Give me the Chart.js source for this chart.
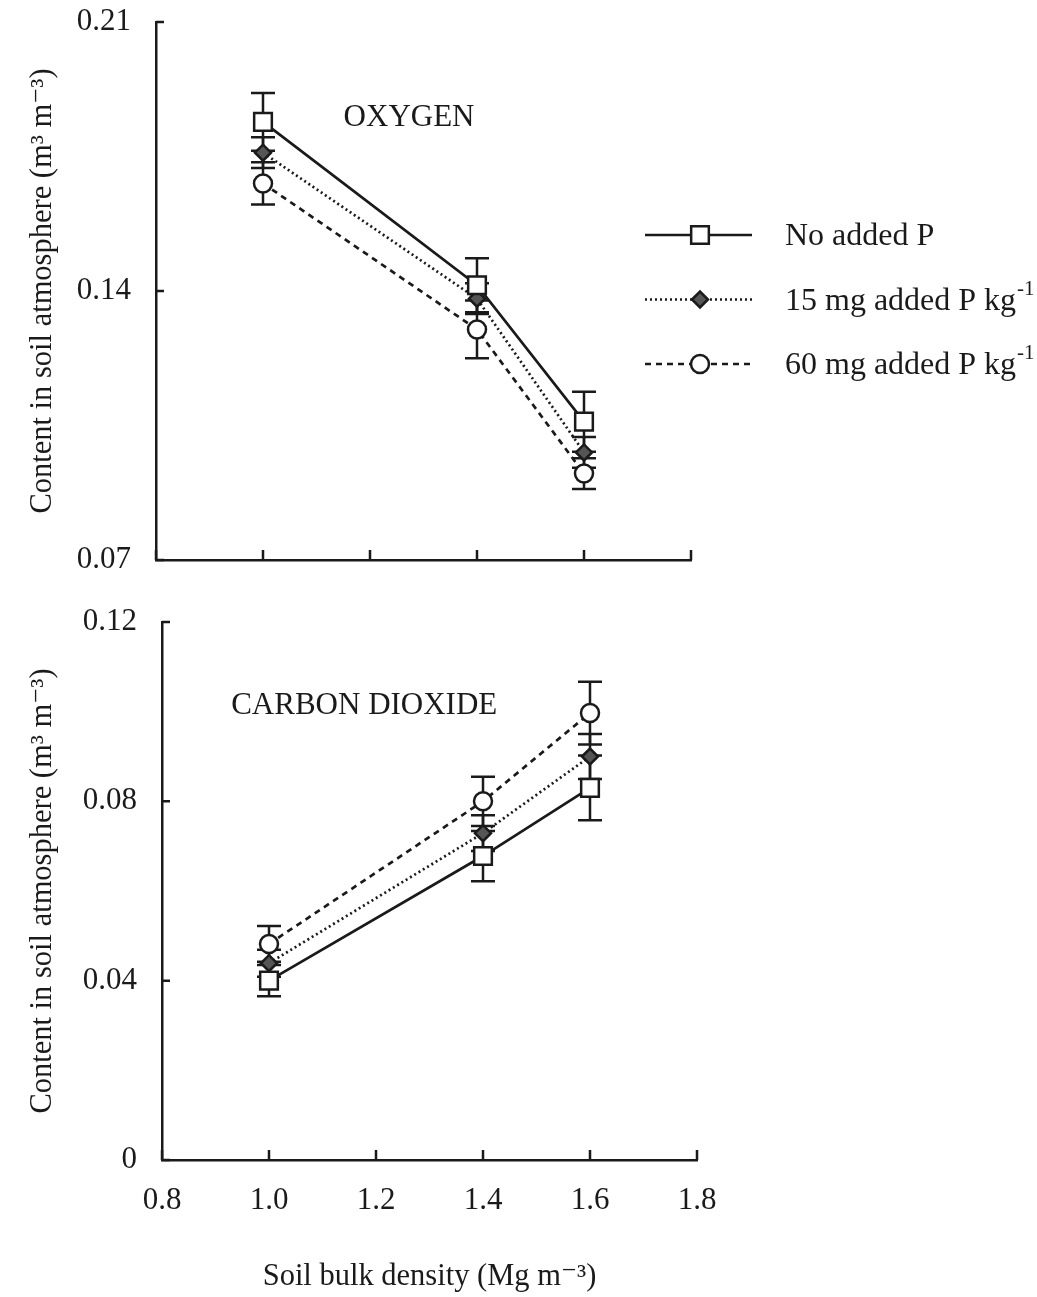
<!DOCTYPE html>
<html>
<head>
<meta charset="utf-8">
<script src="https://cdn.jsdelivr.net/npm/chart.js@4.4.1/dist/chart.umd.min.js"></script>
<style>
  body { margin: 0; background: #fff; }
  #wrap { position: relative; width: 1037px; height: 1297px; }
  canvas { position: absolute; left: 0; }
</style>
</head>
<body>
<div id="wrap">
  <canvas id="oxygenChart" width="1037" height="600" style="top:0"></canvas>
  <canvas id="co2Chart" width="1037" height="697" style="top:600px"></canvas>
</div>
<script>
// bulk density (Mg m-3)
const densities = [1.0, 1.4, 1.6];

// legend text: base part + superscript part
const seriesLabels = ['No added P', '15 mg added P kg', '60 mg added P kg'];
const seriesLabelSup = ['', '-1', '-1'];

// oxygen content (m3 m-3)
const oxygenNoP = [0.184, 0.1415, 0.106];
const oxygenP15 = [0.176, 0.138, 0.098];
const oxygenP60 = [0.168, 0.130, 0.0925];
const oxygenErrNoP = [0.0075, 0.007, 0.0078];
const oxygenErrP15 = [0.004, 0.004, 0.004];
const oxygenErrP60 = [0.0055, 0.0075, 0.004];

// carbon dioxide content (m3 m-3)
const co2NoP = [0.040, 0.0678, 0.083];
const co2P15 = [0.0439, 0.0729, 0.090];
const co2P60 = [0.0482, 0.080, 0.0997];
const co2ErrNoP = [0.0035, 0.0056, 0.0072];
const co2ErrP15 = [0.003, 0.004, 0.005];
const co2ErrP60 = [0.004, 0.0055, 0.007];

const FONT = "'Liberation Serif', 'DejaVu Serif', serif";
const INK = '#1a1a1a';

const seriesStyle = [
    { pointStyle: 'rect', pointRadius: 12.5, pointBackgroundColor: '#fff', borderDash: [] },
    { pointStyle: 'rectRot', pointRadius: 8, pointBackgroundColor: '#555', borderDash: [2, 3] },
    { pointStyle: 'circle', pointRadius: 9, pointBackgroundColor: '#fff', borderDash: [6, 5] }
];

function makeDatasets(values, errors) {
    return values.map((vals, i) => ({
        label: seriesLabels[i] + seriesLabelSup[i],
        data: densities.map((x, k) => ({ x: x, y: vals[k] })),
        errors: errors[i],
        borderColor: INK,
        borderWidth: 2.7,
        borderDash: seriesStyle[i].borderDash,
        pointStyle: seriesStyle[i].pointStyle,
        pointRadius: seriesStyle[i].pointRadius,
        pointBackgroundColor: seriesStyle[i].pointBackgroundColor,
        pointBorderColor: INK,
        pointBorderWidth: 2.5,
        tension: 0
    }));
}

// error bars, drawn under the markers
const errorBars = {
    id: 'errorBars',
    beforeDatasetsDraw(chart) {
        const ctx = chart.ctx;
        const xs = chart.scales.x, ys = chart.scales.y;
        ctx.save();
        ctx.strokeStyle = INK;
        ctx.lineWidth = 2.5;
        ctx.setLineDash([]);
        chart.data.datasets.forEach(ds => {
            ds.data.forEach((p, k) => {
                const e = ds.errors[k];
                const px = xs.getPixelForValue(p.x);
                const top = ys.getPixelForValue(p.y + e);
                const bot = ys.getPixelForValue(p.y - e);
                ctx.beginPath();
                ctx.moveTo(px, top); ctx.lineTo(px, bot);
                ctx.moveTo(px - 12, top); ctx.lineTo(px + 12, top);
                ctx.moveTo(px - 12, bot); ctx.lineTo(px + 12, bot);
                ctx.stroke();
            });
        });
        ctx.restore();
    }
};

// tick marks pointing into the plot
const innerTicks = {
    id: 'innerTicks',
    afterDraw(chart) {
        const ctx = chart.ctx;
        const xs = chart.scales.x, ys = chart.scales.y;
        ctx.save();
        ctx.strokeStyle = INK;
        ctx.lineWidth = 2.5;
        ctx.beginPath();
        ys.ticks.forEach(t => {
            const py = ys.getPixelForValue(t.value);
            ctx.moveTo(xs.left, py); ctx.lineTo(xs.left + 8, py);
        });
        xs.ticks.forEach(t => {
            const px = xs.getPixelForValue(t.value);
            ctx.moveTo(px, ys.bottom); ctx.lineTo(px, ys.bottom - 10);
        });
        ctx.stroke();
        ctx.restore();
    }
};

// panel caption inside the plot
function captionPlugin(text, xVal, yVal) {
    return {
        id: 'caption',
        afterDraw(chart) {
            const ctx = chart.ctx;
            ctx.save();
            ctx.font = '31px ' + FONT;
            ctx.fillStyle = INK;
            ctx.textAlign = 'center';
            ctx.textBaseline = 'middle';
            ctx.fillText(text, chart.scales.x.getPixelForValue(xVal), chart.scales.y.getPixelForValue(yVal));
            ctx.restore();
        }
    };
}

function drawMarker(ctx, style, x, y) {
    ctx.beginPath();
    if (style.pointStyle === 'rect') {
        const s = style.pointRadius * Math.SQRT1_2;
        ctx.rect(x - s, y - s, 2 * s, 2 * s);
    } else if (style.pointStyle === 'rectRot') {
        const r = style.pointRadius;
        ctx.moveTo(x - r, y); ctx.lineTo(x, y - r); ctx.lineTo(x + r, y); ctx.lineTo(x, y + r);
        ctx.closePath();
    } else {
        ctx.arc(x, y, style.pointRadius, 0, Math.PI * 2);
    }
    ctx.fillStyle = style.pointBackgroundColor;
    ctx.fill();
    ctx.stroke();
}

const legendBox = {
    id: 'legendBox',
    afterDraw(chart) {
        const ctx = chart.ctx;
        ctx.save();
        seriesLabels.forEach((label, i) => {
            const y = 235 + i * 64.5;
            const st = seriesStyle[i];
            ctx.strokeStyle = INK;
            ctx.lineWidth = 2.7;
            ctx.setLineDash(st.borderDash);
            ctx.beginPath();
            ctx.moveTo(645, y); ctx.lineTo(752, y);
            ctx.stroke();
            ctx.setLineDash([]);
            ctx.lineWidth = 2.5;
            drawMarker(ctx, st, 700, y);
            ctx.font = '32px ' + FONT;
            ctx.fillStyle = INK;
            ctx.textAlign = 'left';
            ctx.textBaseline = 'alphabetic';
            ctx.fillText(label, 785, y + 10);
            if (seriesLabelSup[i]) {
                const w = ctx.measureText(label).width;
                ctx.font = '21px ' + FONT;
                ctx.fillText(seriesLabelSup[i], 785 + w + 1, y - 5);
            }
        });
        ctx.restore();
    }
};

function noEdgePadding(s) {
    s.paddingTop = 0; s.paddingBottom = 0;
    s.paddingLeft = 0; s.paddingRight = 0;
}

function baseOptions(o) {
    return {
        responsive: false,
        animation: false,
        layout: { padding: { left: 0, top: 22, right: o.padRight, bottom: 0 } },
        plugins: { legend: { display: false }, tooltip: { enabled: false } },
        scales: {
            x: {
                type: 'linear',
                min: 0.8, max: 1.8,
                afterFit: s => { s.height = o.xHeight; noEdgePadding(s); },
                grid: { display: false },
                border: { display: true, color: INK, width: 2.5 },
                ticks: {
                    display: o.showX,
                    stepSize: 0.2,
                    padding: 14,
                    color: INK,
                    font: { family: FONT, size: 31 },
                    maxRotation: 0,
                    callback: v => v.toFixed(1)
                },
                title: {
                    display: o.showX,
                    text: 'Soil bulk density (Mg m\u207B\u00B3)',
                    color: INK,
                    font: { family: FONT, size: 30.5 },
                    padding: { top: 0, bottom: 2 }
                }
            },
            y: {
                type: 'linear',
                min: o.yMin, max: o.yMax,
                afterFit: s => { s.width = o.yWidth; noEdgePadding(s); },
                grid: { display: false },
                border: { display: true, color: INK, width: 2.5 },
                ticks: {
                    stepSize: o.yStep,
                    padding: 17,
                    color: INK,
                    font: { family: FONT, size: 31 },
                    callback: v => Math.abs(v) < 1e-9 ? '0' : v.toFixed(2)
                },
                title: {
                    display: true,
                    text: 'Content in soil atmosphere (m\u00B3 m\u207B\u00B3)',
                    color: INK,
                    font: { family: FONT, size: 30.5 },
                    padding: { top: 25, bottom: 0 }
                }
            }
        }
    };
}

new Chart(document.getElementById('oxygenChart'), {
    type: 'line',
    data: {
        datasets: makeDatasets([oxygenNoP, oxygenP15, oxygenP60], [oxygenErrNoP, oxygenErrP15, oxygenErrP60])
    },
    options: baseOptions({ padRight: 346, xHeight: 40, showX: false, yMin: 0.07, yMax: 0.21, yStep: 0.07, yWidth: 156 }),
    plugins: [errorBars, innerTicks, captionPlugin('OXYGEN', 1.273, 0.185), legendBox]
});

new Chart(document.getElementById('co2Chart'), {
    type: 'line',
    data: {
        datasets: makeDatasets([co2NoP, co2P15, co2P60], [co2ErrNoP, co2ErrP15, co2ErrP60])
    },
    options: baseOptions({ padRight: 340, xHeight: 137, showX: true, yMin: 0, yMax: 0.12, yStep: 0.04, yWidth: 162 }),
    plugins: [errorBars, innerTicks, captionPlugin('CARBON DIOXIDE', 1.178, 0.1013)]
});
</script>
</body>
</html>
